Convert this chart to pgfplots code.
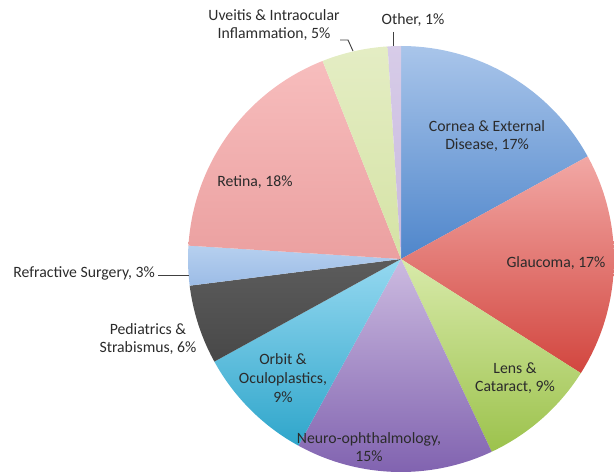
\documentclass[border=0pt]{standalone}
\usepackage{fontspec}
\setmainfont{Carlito}
\usepackage{pgfplots}
\pgfplotsset{compat=1.18}

% slice colours (top / bottom of the gradient)
\definecolor{corneaT}{HTML}{A9C5EA}
\definecolor{corneaB}{HTML}{4F86CB}
\definecolor{glaucT}{HTML}{F2A8A5}
\definecolor{glaucB}{HTML}{D2463F}
\definecolor{lensT}{HTML}{D8EAAA}
\definecolor{lensB}{HTML}{9CC24C}
\definecolor{neuroT}{HTML}{CCBBE0}
\definecolor{neuroB}{HTML}{8163B0}
\definecolor{orbitT}{HTML}{95D8F0}
\definecolor{orbitB}{HTML}{2FA6CB}
\definecolor{pediT}{HTML}{5C5C5C}
\definecolor{pediB}{HTML}{484848}
\definecolor{refrT}{HTML}{B6D0EF}
\definecolor{refrB}{HTML}{9CBCE6}
\definecolor{retT}{HTML}{F7BDBD}
\definecolor{retB}{HTML}{EBA0A0}
\definecolor{uveT}{HTML}{E4EDC4}
\definecolor{uveB}{HTML}{D5E3A5}
\definecolor{othT}{HTML}{D7CCE8}
\definecolor{othB}{HTML}{C8B8DE}
\definecolor{txt}{HTML}{2B2B2B}
\definecolor{lead}{HTML}{404040}

\tikzset{lbl/.style={font=\fontsize{11.8}{14}\selectfont, text=txt, align=center, inner sep=0pt}}

% pie geometry (axis units = pixels of the reference)
\newcommand\cx{401}
\newcommand\cy{216}
\newcommand\rr{213}
\xdef\cum{90}
% #1 share in percent, #2 top colour, #3 bottom colour; slices run clockwise from 12 o'clock
\newcommand{\slice}[3]{%
  \pgfmathsetmacro\angB{\cum}%
  \pgfmathsetmacro\angA{\cum-3.6*#1}%
  \edef\doslice{\noexpand\addplot[draw=none, mark=none, top color=#2, bottom color=#3,
    domain=\angA:\angB, samples=80]
    ({\cx+\rr*cos(x)},{\cy+\rr*sin(x)}) -- (axis cs:\cx,\cy) -- cycle;}%
  \doslice
  \xdef\cum{\angA}}

\begin{document}
\begin{tikzpicture}
\begin{axis}[
    scale only axis,
    width=460.5pt, height=356.25pt,
    xmin=0, xmax=614, ymin=0, ymax=475,
    hide axis, clip=false
]
% keep the whole frame as the picture's bounding box
\path (rel axis cs:0,0) rectangle (rel axis cs:1,1);

\slice{17}{corneaT}{corneaB}  % Cornea & External Disease
\slice{17}{glaucT}{glaucB}    % Glaucoma
\slice{9}{lensT}{lensB}       % Lens & Cataract
\slice{15}{neuroT}{neuroB}    % Neuro-ophthalmology
\slice{9}{orbitT}{orbitB}     % Orbit & Oculoplastics
\slice{6}{pediT}{pediB}       % Pediatrics & Strabismus
\slice{3}{refrT}{refrB}       % Refractive Surgery
\slice{18}{retT}{retB}        % Retina
\slice{5}{uveT}{uveB}         % Uveitis & Intraocular Inflammation
\slice{1}{othT}{othB}         % Other

% labels inside the slices
\node[lbl] at (axis cs:487,339) {Cornea \& External\\Disease, 17\%};
\node[lbl] at (axis cs:556,212) {Glaucoma, 17\%};
\node[lbl] at (axis cs:515,97) {Lens \&\\Cataract, 9\%};
\node[lbl] at (axis cs:369,28) {Neuro-ophthalmology,\\15\%};
\node[lbl] at (axis cs:283,97) {Orbit \&\\Oculoplastics,\\9\%};
\node[lbl] at (axis cs:255,293) {Retina, 18\%};

% labels outside, with leader lines
\node[lbl] at (axis cs:274,450) {Uveitis \& Intraocular\\Inflammation, 5\%};
\draw[lead, line width=0.7pt] (axis cs:340,435) -- (axis cs:348,435) -- (axis cs:353,424);
\node[lbl] at (axis cs:413,455) {Other, 1\%};
\draw[lead, line width=0.7pt] (axis cs:393,443) -- (axis cs:393,429);
\node[lbl, anchor=east] at (axis cs:155,202) {Refractive Surgery, 3\%};
\draw[lead, line width=0.7pt] (axis cs:158,200) -- (axis cs:189,200);
\node[lbl] at (axis cs:148,136) {Pediatrics \&\\Strabismus, 6\%};
\end{axis}
\end{tikzpicture}
\end{document}
